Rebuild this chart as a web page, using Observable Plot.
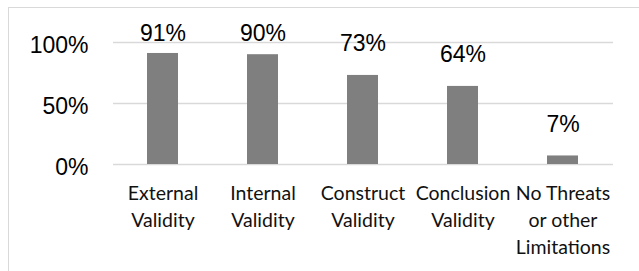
<!DOCTYPE html>
<html>
<head>
<meta charset="utf-8">
<script src="https://cdn.jsdelivr.net/npm/d3@7"></script>
<script src="https://cdn.jsdelivr.net/npm/@observablehq/plot@0.6"></script>
<style>
  html, body { margin: 0; padding: 0; background: #fff; }
  #wrap { position: relative; width: 639px; height: 271px; overflow: hidden; }
  #frame { position: absolute; left: 8px; top: 7px; width: 700px; height: 400px;
           border-left: 1.5px solid #d9d9d9; border-top: 1.5px solid #d9d9d9; pointer-events: none; }
  #chart { position: absolute; left: 0; top: 0; }
</style>
</head>
<body>
<div id="wrap"><div id="chart"></div><div id="frame"></div></div>
<script>
const categories = ["External Validity", "Internal Validity", "Construct Validity", "Conclusion Validity", "No Threats or other Limitations"];
const tickLabels = ["External\nValidity", "Internal\nValidity", "Construct\nValidity", "Conclusion\nValidity", "No Threats\nor other\nLimitations"];
const values = [91, 90, 73, 64, 7];
const yTicks = [0, 50, 100];

const data = categories.map((c, i) => ({category: c, value: values[i], label: values[i] + "%"}));
const labelOf = new Map(categories.map((c, i) => [c, tickLabels[i]]));

const chart = Plot.plot({
  width: 639,
  height: 271,
  marginLeft: 113,
  marginRight: 26,
  marginTop: 42,
  marginBottom: 107,
  style: {background: "transparent", overflow: "visible"},
  x: {domain: categories, paddingInner: 0.69, paddingOuter: 0.345, label: null},
  y: {domain: [0, 100], label: null},
  marks: [
    Plot.gridY(yTicks, {stroke: "#d9d9d9", strokeOpacity: 1, strokeWidth: 1.5}),
    Plot.barY(data, {x: "category", y: "value", fill: "#7f7f7f"}),
    Plot.text(data, {
      x: "category",
      y: d => Math.min(d.value, 81.6),
      dy: -24,
      text: "label",
      lineAnchor: "bottom",
      fontSize: 23,
      fontFamily: "Liberation Sans, Arial, sans-serif",
      fill: "#000"
    }),
    Plot.axisY({
      ticks: yTicks,
      tickSize: 0,
      tickPadding: 25,
      tickFormat: d => d + "%",
      fontSize: 23,
      fontFamily: "Liberation Sans, Arial, sans-serif",
      fill: "#000",
      dy: 3,
      label: null
    }),
    Plot.axisX({
      tickSize: 0,
      tickPadding: 16,
      tickFormat: d => labelOf.get(d),
      fontSize: 19.5,
      fontFamily: "Lato, sans-serif",
      fill: "#111",
      lineHeight: 1.385,
      label: null
    })
  ]
});
document.getElementById("chart").appendChild(chart);
</script>
</body>
</html>
